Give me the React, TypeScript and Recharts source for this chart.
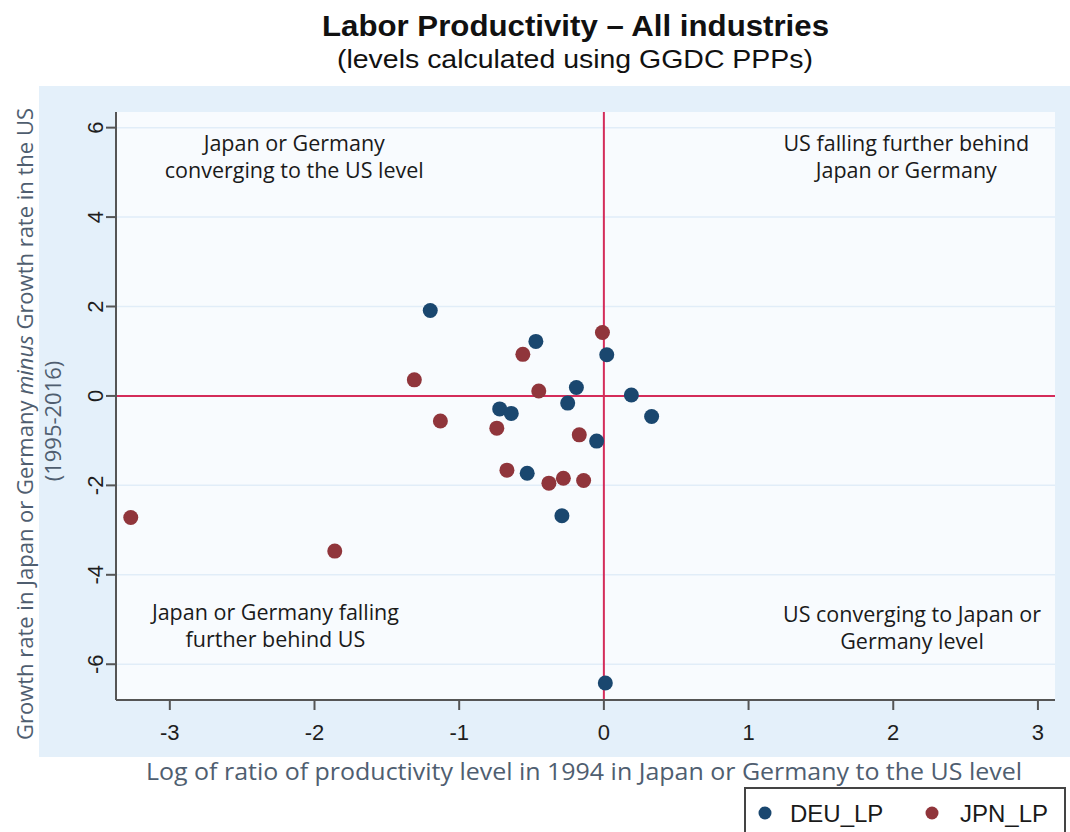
import React from 'react';
import {
  ScatterChart,
  Scatter,
  XAxis,
  YAxis,
  CartesianGrid,
  ReferenceLine,
  ReferenceDot,
} from 'recharts';

// ---- data ----
const deuX = [-1.2, -0.47, 0.02, -0.19, 0.19, -0.25, -0.72, -0.64, 0.33, -0.05, -0.53, -0.29, 0.01];
const deuY = [1.91, 1.22, 0.92, 0.19, 0.02, -0.16, -0.29, -0.39, -0.46, -1.01, -1.73, -2.68, -6.42];
const jpnX = [-0.01, -0.56, -1.31, -0.45, -1.13, -0.74, -0.17, -0.67, -0.38, -0.28, -0.14, -3.27, -1.86];
const jpnY = [1.42, 0.93, 0.36, 0.11, -0.56, -0.72, -0.87, -1.66, -1.95, -1.84, -1.89, -2.72, -3.47];

const xTicks = [-3, -2, -1, 0, 1, 2, 3];
const yTicks = [-6, -4, -2, 0, 2, 4, 6];

const seriesNames = ['DEU_LP', 'JPN_LP'];

const quadrantText = [
  ['Japan or Germany', 'converging to the US level'],
  ['US falling further behind', 'Japan or Germany'],
  ['Japan or Germany falling', 'further behind US'],
  ['US converging to Japan or', 'Germany level'],
];
const quadrantAnchorX = [-2.14, 2.09, -2.27, 2.13];
const quadrantAnchorY = [5.2, 5.2, -5.28, -5.33];

const titleText = 'Labor Productivity \u2013 All industries';
const subtitleText = '(levels calculated using GGDC PPPs)';
const xLabelText = 'Log of ratio of productivity level in 1994 in Japan or Germany to the US level';

// ---- styles ----
const DEU_COLOR = '#1a476f';
const JPN_COLOR = '#90353b';
const REF_COLOR = '#d42c5a';
const AXIS_COLOR = '#555555';
const LABEL_COLOR = '#4f5e70';
const TICK_FONT = "'Liberation Sans', Arial, sans-serif";
const TEXT_FONT = "'Open Sans', 'DejaVu Sans', sans-serif";

const deuData = deuX.map((x, i) => ({ x, y: deuY[i] }));
const jpnData = jpnX.map((x, i) => ({ x, y: jpnY[i] }));

const XTick = (props: any) => {
  const { x, y, payload } = props;
  return (
    <text x={x} y={y + 30} textAnchor="middle" fontFamily={TICK_FONT} fontSize={22} fill="#1e1e1e">
      {payload.value}
    </text>
  );
};

const YTick = (props: any) => {
  const { x, y, payload } = props;
  const bx = x - 3;
  return (
    <text
      x={bx}
      y={y}
      transform={`rotate(-90, ${bx}, ${y})`}
      textAnchor="middle"
      fontFamily={TICK_FONT}
      fontSize={22}
      fill="#1e1e1e"
    >
      {payload.value}
    </text>
  );
};

const makeDot = (color: string) => (props: any) => (
  <circle cx={props.cx} cy={props.cy} r={7.5} fill={color} />
);

const makeQuadLabel = (lines: string[]) => (props: any) => {
  const { cx, cy } = props;
  return (
    <text textAnchor="middle" fontFamily={TEXT_FONT} fontSize={21.5} fill="#1a1a1a">
      <tspan x={cx} y={cy - 13.5 + 1}>{lines[0]}</tspan>
      <tspan x={cx} y={cy + 13.5 + 1}>{lines[1]}</tspan>
    </text>
  );
};

export default function App() {
  return (
    <div
      style={{
        position: 'absolute',
        left: 0,
        top: 0,
        width: 1070,
        height: 832,
        background: '#ffffff',
        overflow: 'hidden',
      }}
    >
      <div
        style={{
          position: 'absolute',
          left: 39,
          top: 86,
          width: 1031,
          height: 671,
          background: '#e4f0fa',
        }}
      />
      <div style={{ position: 'absolute', left: 0, top: 0 }}>
        <ScatterChart
          width={1070}
          height={832}
          margin={{ top: 112, right: 15, bottom: 92, left: 56 }}
        >
          <CartesianGrid
            vertical={false}
            horizontal={true}
            fill="#f8fbfe"
            fillOpacity={1}
            stroke="#e1edf8"
            strokeWidth={1.5}
            horizontalValues={yTicks}
          />
          <XAxis
            type="number"
            dataKey="x"
            domain={[-3.372, 3.118]}
            ticks={xTicks}
            interval={0}
            allowDataOverflow
            height={40}
            tickSize={10}
            tickMargin={0}
            axisLine={{ stroke: AXIS_COLOR, strokeWidth: 2 }}
            tickLine={{ stroke: AXIS_COLOR, strokeWidth: 2 }}
            tick={<XTick />}
          />
          <YAxis
            type="number"
            dataKey="y"
            domain={[-6.8, 6.35]}
            ticks={yTicks}
            interval={0}
            allowDataOverflow
            width={60}
            tickSize={10}
            tickMargin={0}
            axisLine={{ stroke: AXIS_COLOR, strokeWidth: 2 }}
            tickLine={{ stroke: AXIS_COLOR, strokeWidth: 2 }}
            tick={<YTick />}
          />
          <ReferenceLine x={0} stroke={REF_COLOR} strokeWidth={2} />
          <ReferenceLine y={0} stroke={REF_COLOR} strokeWidth={2} />
          {quadrantText.map((lines, i) => (
            <ReferenceDot
              key={i}
              x={quadrantAnchorX[i]}
              y={quadrantAnchorY[i]}
              r={0}
              ifOverflow="visible"
              shape={makeQuadLabel(lines)}
            />
          ))}
          <Scatter
            name={seriesNames[0]}
            data={deuData}
            fill={DEU_COLOR}
            shape={makeDot(DEU_COLOR)}
            isAnimationActive={false}
          />
          <Scatter
            name={seriesNames[1]}
            data={jpnData}
            fill={JPN_COLOR}
            shape={makeDot(JPN_COLOR)}
            isAnimationActive={false}
          />
        </ScatterChart>
      </div>
      <svg
        width={1070}
        height={832}
        style={{ position: 'absolute', left: 0, top: 0, pointerEvents: 'none' }}
      >
        <text
          x={575.5}
          y={36}
          textAnchor="middle"
          fontFamily="'Liberation Sans', Arial, sans-serif"
          fontWeight="bold"
          fontSize={30}
          fill="#111"
          textLength={507}
          lengthAdjust="spacingAndGlyphs"
        >
          {titleText}
        </text>
        <text
          x={575}
          y={68}
          textAnchor="middle"
          fontFamily="'Liberation Sans', Arial, sans-serif"
          fontSize={26}
          fill="#111"
          textLength={476}
          lengthAdjust="spacingAndGlyphs"
        >
          {subtitleText}
        </text>
        <text
          x={584}
          y={780}
          textAnchor="middle"
          fontFamily={TEXT_FONT}
          fontSize={24.5}
          fill={LABEL_COLOR}
          textLength={876}
          lengthAdjust="spacingAndGlyphs"
        >
          {xLabelText}
        </text>
        <text
          transform="translate(33,424) rotate(-90)"
          textAnchor="middle"
          fontFamily={TEXT_FONT}
          fontSize={22}
          fill={LABEL_COLOR}
          textLength={632}
          lengthAdjust="spacingAndGlyphs"
        >
          {'Growth rate in Japan or Germany '}
          <tspan fontStyle="italic">minus</tspan>
          {' Growth rate in the US'}
        </text>
        <text
          transform="translate(61,421) rotate(-90)"
          textAnchor="middle"
          fontFamily={TEXT_FONT}
          fontSize={22}
          fill={LABEL_COLOR}
        >
          (1995-2016)
        </text>
        <rect x={745} y={788} width={320} height={60} fill="#ffffff" stroke="#444" strokeWidth={2} />
        <circle cx={765} cy={813} r={6.5} fill={DEU_COLOR} />
        <text x={790} y={822} fontFamily={TICK_FONT} fontSize={24} fill="#1a1a1a">
          {seriesNames[0]}
        </text>
        <circle cx={932} cy={813} r={6.5} fill={JPN_COLOR} />
        <text x={960} y={822} fontFamily={TICK_FONT} fontSize={24} fill="#1a1a1a">
          {seriesNames[1]}
        </text>
      </svg>
    </div>
  );
}
